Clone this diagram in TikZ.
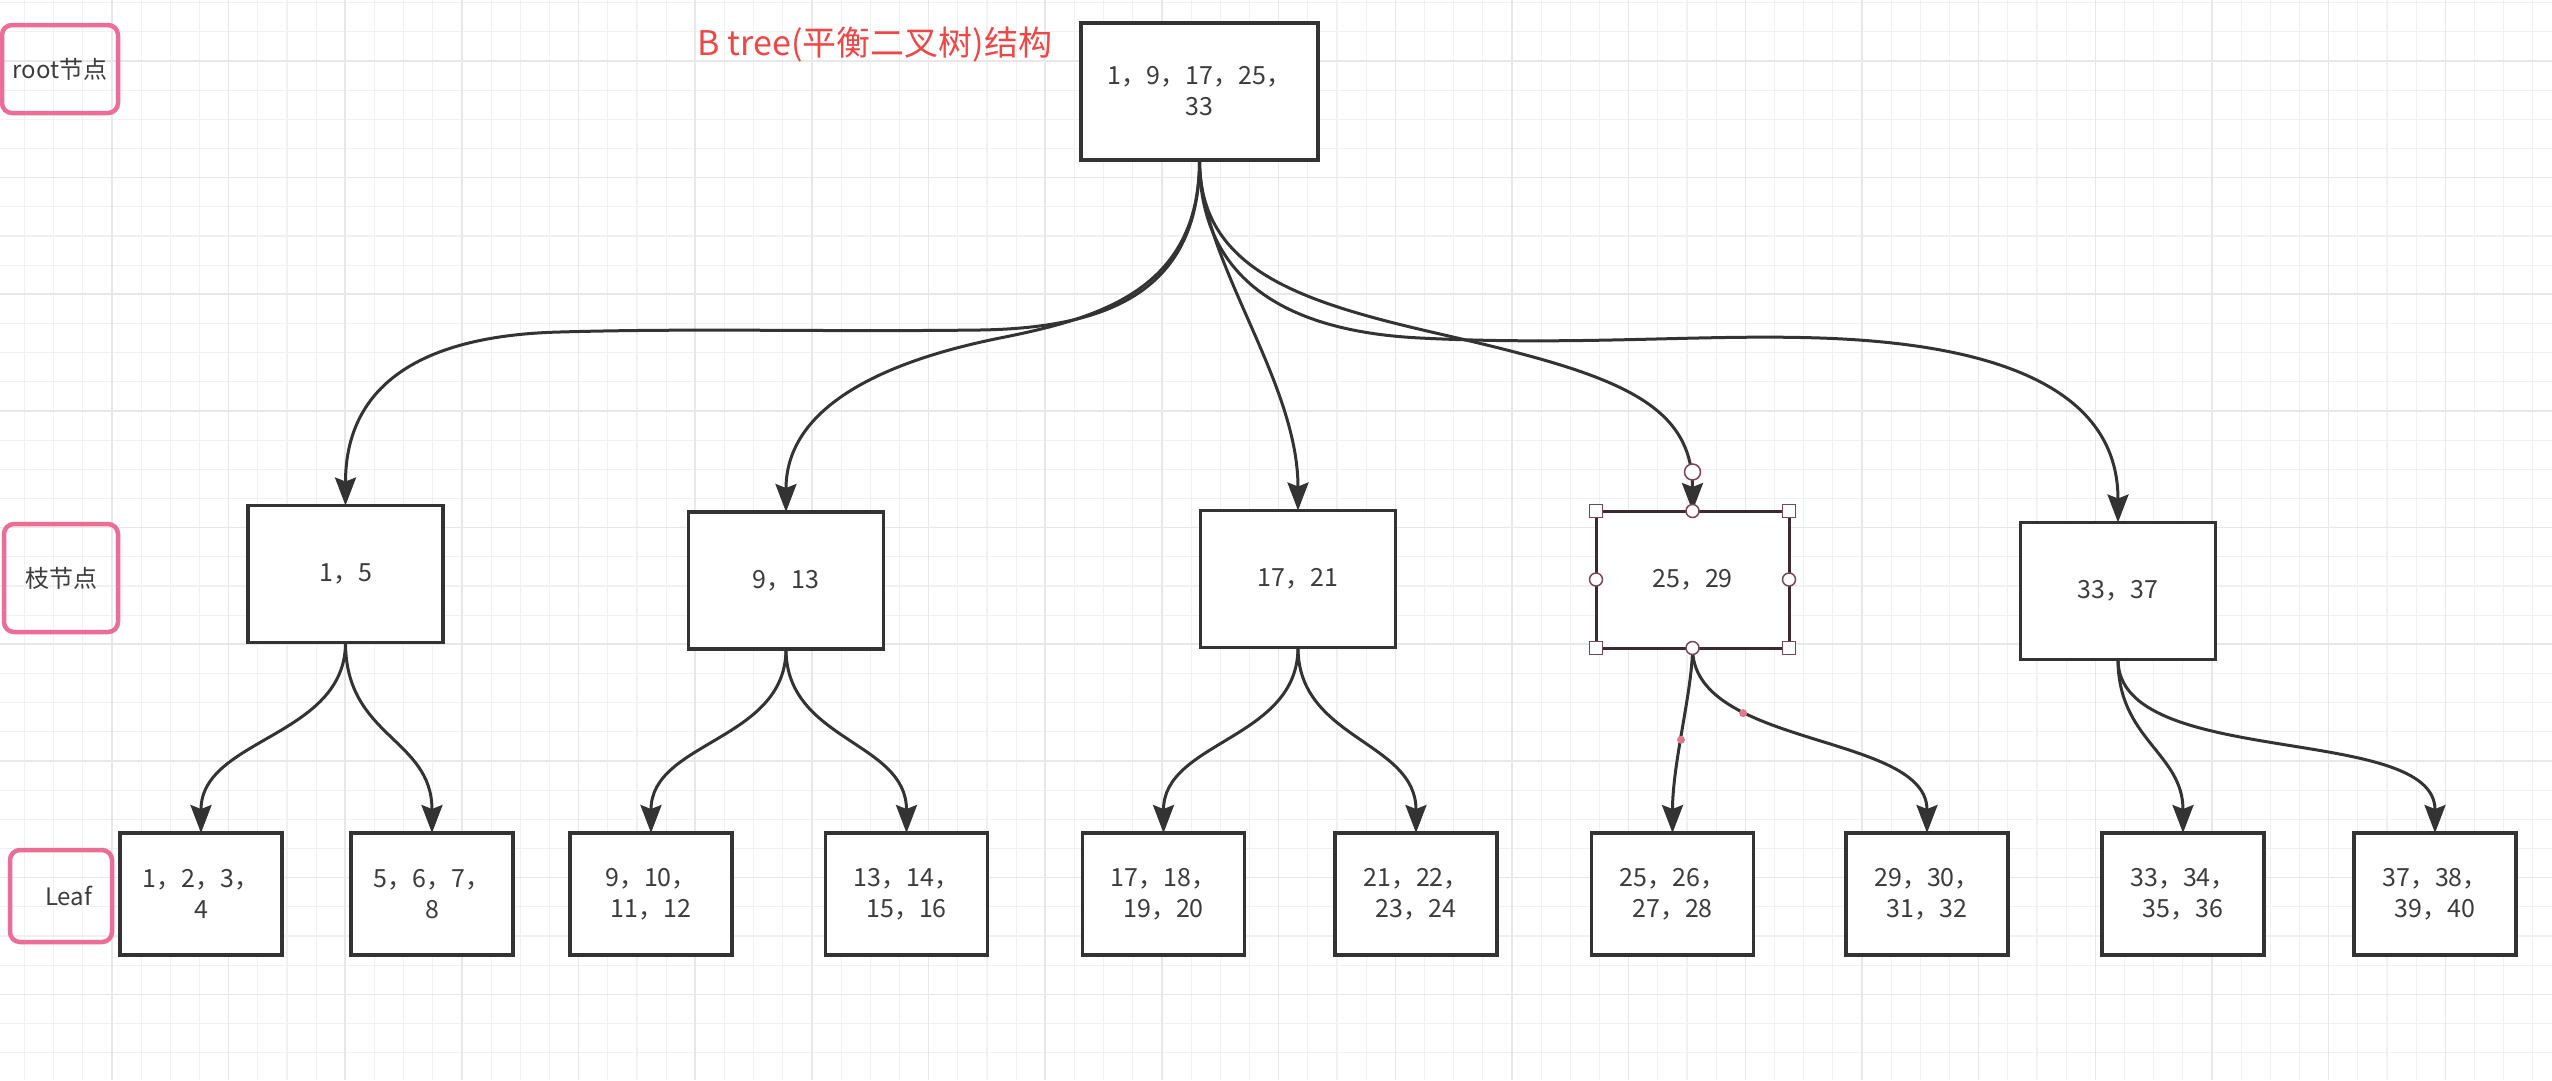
\documentclass[tikz,border=0pt]{standalone}
\usepackage{fontspec}
\setmainfont{Noto Sans CJK SC}
\usetikzlibrary{arrows.meta}
\definecolor{ink}{HTML}{333333}
\definecolor{selink}{HTML}{3B2A30}
\definecolor{txt}{HTML}{3C3C3C}
\definecolor{pinkb}{HTML}{EC6D96}
\definecolor{titred}{HTML}{F04646}
\definecolor{handle}{HTML}{7E4258}
\definecolor{pinkdot}{HTML}{E07A8A}
\definecolor{gridmin}{HTML}{F1F1F1}
\definecolor{gridmaj}{HTML}{E8E8E8}
\begin{document}
\begin{tikzpicture}[x=1pt,y=-1pt,
  box/.style={draw=ink, line width=3.5pt, fill=white, inner sep=0pt, outer sep=0pt, align=center, text=txt, font=\fontsize{25}{31}\selectfont},
  rootbox/.style={box, minimum width=237pt, minimum height=137pt},
  midbox/.style={box, minimum width=195pt, minimum height=137pt},
  leafbox/.style={box, minimum width=162pt, minimum height=122pt},
  tag/.style={draw=pinkb, line width=4.5pt, rounded corners=10pt, inner sep=0pt, text=txt, font=\fontsize{24}{28}\selectfont},
  edge/.style={draw=ink, line width=3pt, -{Stealth[length=28pt,width=21pt,inset=4pt]}},
  sq/.style={draw=handle, fill=white, line width=1.5pt, minimum size=13pt, inner sep=0pt, outer sep=0pt},
  hcirc/.style={circle, draw=handle, fill=white, line width=1.5pt, minimum size=13pt, inner sep=0pt, outer sep=0pt},
  seldot/.style={circle, fill=pinkdot, minimum size=8pt, inner sep=0pt}
]
\useasboundingbox (0,0) rectangle (2552,1080);
\clip (0,0) rectangle (2552,1080);
\fill[white] (0,0) rectangle (2552,1080);
% grid
\foreach \i in {0,...,87} {\draw[gridmin, line width=1.2pt] ({24.5+\i*29.1667},0) -- ({24.5+\i*29.1667},1080);}
\foreach \i in {0,...,37} {\draw[gridmin, line width=1.2pt] (0,{2.6+\i*29.1667}) -- (2552,{2.6+\i*29.1667});}
\foreach \i in {0,...,21} {\draw[gridmaj, line width=1.5pt] ({111.9+\i*116.667},0) -- ({111.9+\i*116.667},1080);}
\foreach \i in {0,...,8} {\draw[gridmaj, line width=1.5pt] (0,{60.9+\i*116.667}) -- (2552,{60.9+\i*116.667});}

% title and side tags
\node[font=\fontsize{34}{38}\selectfont, text=titred] (title) at (875,45) {B tree(平衡二叉树)结构};
\node[tag, minimum width=116pt, minimum height=88pt] (t1) at (60,69) {root节点};
\node[tag, minimum width=114pt, minimum height=108pt] (t2) at (61,578) {枝节点};
\node[tag, minimum width=102pt, minimum height=92pt] (t3) at (61,896) {\hspace*{15pt}Leaf};

% nodes
\node[rootbox] (root) at (1199.5,91.5) {1，9，17，25，\\33};
\node[midbox] (b1) at (345.5,574) {1，5};
\node[midbox] (b2) at (786,580.5) {9，13};
\node[midbox] (b3) at (1298,579) {17，21};
\node[midbox, draw=selink, line width=3pt, minimum width=193pt] (b4) at (1692.5,579.5) {25，29};
\node[midbox] (b5) at (2118,591) {33，37};

\node[leafbox] (l1) at (201,894) {1，2，3，\\4};
\node[leafbox] (l2) at (432,894) {5，6，7，\\8};
\node[leafbox] (l3) at (651,894) {9，10，\\11，12};
\node[leafbox] (l4) at (906.5,894) {13，14，\\15，16};
\node[leafbox] (l5) at (1163.5,894) {17，18，\\19，20};
\node[leafbox] (l6) at (1416,894) {21，22，\\23，24};
\node[leafbox] (l7) at (1672.5,894) {25，26，\\27，28};
\node[leafbox] (l8) at (1927,894) {29，30，\\31，32};
\node[leafbox] (l9) at (2183,894) {33，34，\\35，36};
\node[leafbox] (l10) at (2435,894) {37，38，\\39，40};

% waypoints
\coordinate (wA1) at (980,330);
\coordinate (wA2) at (560,332);
\coordinate (wB) at (1000,338);
\coordinate (wD) at (1440,334);
\coordinate (wE1) at (1420,338);
\coordinate (wE2) at (1820,338);

% root edges
\draw[edge] (root.south) .. controls (1199.5,290) and (1110,328) .. (wA1)
  .. controls (820,332) and (700,328) .. (wA2)
  .. controls (400,336) and (345.5,400) .. (b1.north);
\draw[edge] (root.south) .. controls (1199.5,290) and (1100,318) .. (wB)
  .. controls (900,358) and (786,400) .. (b2.north);
\draw[edge] (root.south) .. controls (1199.5,260) and (1298,380) .. (b3.north);
\draw[edge] (root.south) .. controls (1199.5,270) and (1300,302) .. (wD)
  .. controls (1610,373) and (1692.5,400) .. (b4.north);
\draw[edge] (root.south) .. controls (1199.5,260) and (1260,330) .. (wE1)
  .. controls (1580,346) and (1700,334) .. (wE2)
  .. controls (2000,344) and (2118,390) .. (b5.north);

% branch edges
\draw[edge] (b1.south) .. controls +(0,95) and +(0,-95) .. (l1.north);
\draw[edge] (b1.south) .. controls +(0,95) and +(0,-95) .. (l2.north);
\draw[edge] (b2.south) .. controls +(0,92) and +(0,-92) .. (l3.north);
\draw[edge] (b2.south) .. controls +(0,92) and +(0,-92) .. (l4.north);
\draw[edge] (b3.south) .. controls +(0,92) and +(0,-92) .. (l5.north);
\draw[edge] (b3.south) .. controls +(0,92) and +(0,-92) .. (l6.north);
\draw[edge] (b4.south) .. controls +(0,42) and +(0,-70) .. node[pos=0.55, seldot] (d1) {} (l7.north);
\draw[edge] (b4.south) .. controls +(0,100) and +(0,-100) .. node[pos=0.3, seldot] (d2) {} (l8.north);
\draw[edge] (b5.south) .. controls +(0,80) and +(0,-80) .. (l9.north);
\draw[edge] (b5.south) .. controls +(0,110) and +(0,-110) .. (l10.north);

% selection handles of the 25,29 box
\foreach \a/\n in {north west/hnw, north east/hne, south west/hsw, south east/hse}
  {\node[sq] (\n) at (b4.\a) {};}
\foreach \a/\n in {north/hn, south/hs, east/he, west/hw}
  {\node[hcirc] (\n) at (b4.\a) {};}
\node[hcirc, minimum size=16pt] (hrot) at (1692.5,472) {};
\end{tikzpicture}
\end{document}
